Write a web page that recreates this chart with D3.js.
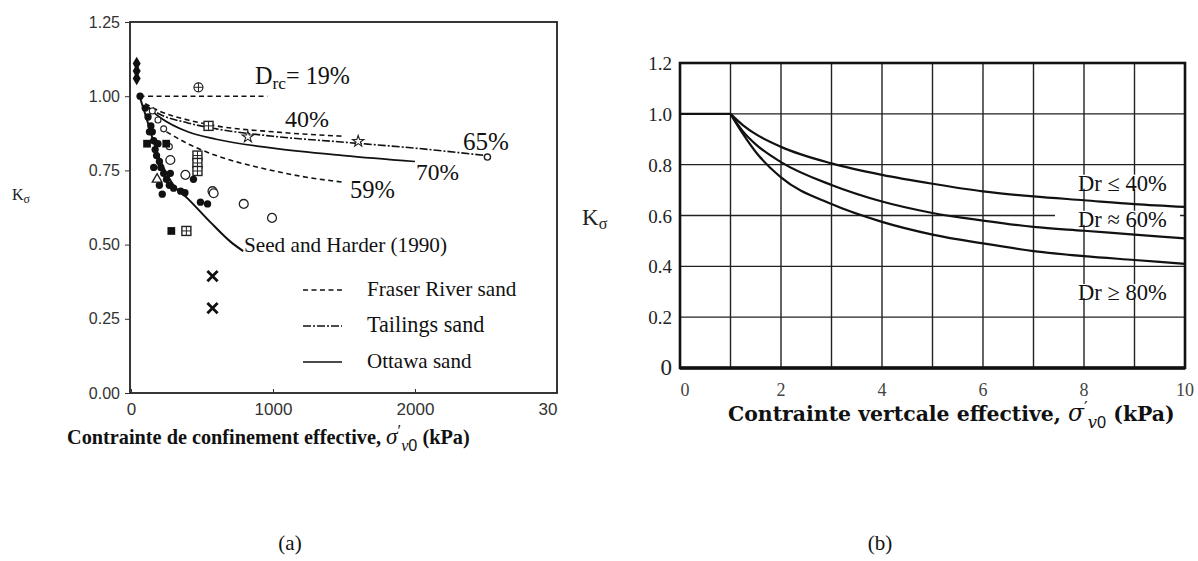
<!DOCTYPE html>
<html><head><meta charset="utf-8">
<script src="https://cdn.jsdelivr.net/npm/d3@7"></script>
<style>body{margin:0;background:#fff}</style>
</head><body>
<svg id="c" width="1198" height="561"></svg>
<script>
// ================= DATA : chart (a) =================
const aXTicks = [0, 1000, 2000, 3000];
const aXTickLabels = ["0", "1000", "2000", "3000"];
const aYTicks = [0, 0.25, 0.5, 0.75, 1.0, 1.25];
const aYTickLabels = ["0.00", "0.25", "0.50", "0.75", "1.00", "1.25"];

const fraser19 = [[60, 1.0], [960, 1.0]];
const fraser40 = [[100, 0.975], [200, 0.95], [400, 0.92], [600, 0.90], [1000, 0.88], [1500, 0.865]];
const fraser59 = [[250, 0.88], [400, 0.84], [600, 0.80], [900, 0.76], [1200, 0.73], [1500, 0.71]];
const tailings65 = [[100, 0.97], [200, 0.94], [400, 0.91], [600, 0.89], [1000, 0.865], [1500, 0.845], [2000, 0.825], [2500, 0.80]];
const ottawa70 = [[100, 0.97], [200, 0.93], [400, 0.88], [600, 0.855], [1000, 0.825], [1500, 0.80], [2000, 0.78]];
const seedHarder = [[60, 1.0], [100, 0.94], [150, 0.86], [200, 0.79], [250, 0.74], [300, 0.70], [400, 0.655], [560, 0.575], [700, 0.51], [790, 0.478]];

const filledCircles = [[64, 1.0], [100, 0.96], [120, 0.93], [140, 0.90], [150, 0.88], [160, 0.85], [170, 0.82], [180, 0.80],
  [200, 0.78], [210, 0.76], [230, 0.74], [250, 0.72], [270, 0.70], [300, 0.69], [350, 0.68], [380, 0.675], [220, 0.67],
  [277, 0.74], [440, 0.72], [489, 0.643], [539, 0.637], [200, 0.70], [160, 0.76], [130, 0.88], [190, 0.84]];
const filledSquares = [[113, 0.84], [248, 0.84], [284, 0.546]];
const filledDiamonds = [[40, 1.11], [40, 1.085], [40, 1.06]];
const openCircles = [[277, 0.785], [383, 0.735], [574, 0.68], [582, 0.673], [794, 0.637], [993, 0.59]];
const smallOpenCircles = [[150, 0.95], [190, 0.92], [230, 0.89], [270, 0.83]];
const boxedPlus = [[546, 0.90], [468, 0.80], [468, 0.775], [468, 0.748], [390, 0.546]];
const circledPlus = [[475, 1.03]];
const plusSigns = [[248, 0.98], [160, 0.97], [200, 0.95]];
const openTriangles = [[184, 0.72]];
const crosses = [[574, 0.394], [574, 0.286]];
const stars = [[823, 0.863], [1600, 0.848]];
const smallOpen = [[2510, 0.795]];

const legendItems = ["Fraser River sand", "Tailings sand", "Ottawa sand"];

// ================= DATA : chart (b) =================
const bXTicks = [0, 2, 4, 6, 8, 10];
const bXGrid = [1, 2, 3, 4, 5, 6, 7, 8, 9];
const bYTicks = [0, 0.2, 0.4, 0.6, 0.8, 1.0, 1.2];
const bYTickLabels = ["0", "0.2", "0.4", "0.6", "0.8", "1.0", "1.2"];
const bYGrid = [0.2, 0.4, 0.6, 0.8, 1.0];
const flatPart = [[0, 1.0], [1, 1.0]];
const dr40 = [[1, 1.0], [1.25, 0.955], [1.5, 0.92], [2, 0.87], [3, 0.805], [4, 0.76], [5, 0.725], [6, 0.695], [7, 0.675], [8, 0.66], [9, 0.645], [10, 0.634]];
const dr60 = [[1, 1.0], [1.25, 0.93], [1.5, 0.88], [2, 0.81], [3, 0.72], [4, 0.655], [5, 0.61], [6, 0.58], [7, 0.555], [8, 0.54], [9, 0.525], [10, 0.51]];
const dr80 = [[1, 1.0], [1.25, 0.92], [1.5, 0.85], [2, 0.75], [3, 0.645], [4, 0.575], [5, 0.525], [6, 0.49], [7, 0.46], [8, 0.44], [9, 0.425], [10, 0.41]];
const bLabelTexts = ["Dr ≤ 40%", "Dr ≈ 60%", "Dr ≥ 80%"];
const bLabelK = [0.725, 0.583, 0.295];

// ================= DRAW =================
const svg = d3.select("#c");
svg.append("rect").attr("width", 1198).attr("height", 561).attr("fill", "#fff");
const SERIF = "'Liberation Serif','DejaVu Serif',serif";
const WSERIF = "'DejaVu Serif','Liberation Serif',serif";
const SANS = "'Liberation Sans',Arial,sans-serif";

function fit(t, target) {
  const w = t.node().getBBox().width;
  const fs = parseFloat(t.attr("font-size"));
  if (w > 0) t.attr("font-size", (fs * target / w).toFixed(2));
  return t;
}

// ---------- chart (a) ----------
const ax = d3.scaleLinear().domain([0, 3000]).range([131, 557]);
const ay = d3.scaleLinear().domain([0, 1.25]).range([393, 22]);
const defs = svg.append("defs");
defs.append("clipPath").attr("id", "clipA")
  .append("rect").attr("x", 0).attr("y", 0).attr("width", 558).attr("height", 561);
const ga = svg.append("g").attr("clip-path", "url(#clipA)");

ga.append("rect").attr("x", 130).attr("y", ay(1.25)).attr("width", 557 - 130).attr("height", ay(0) - ay(1.25))
  .attr("fill", "none").attr("stroke", "#222").attr("stroke-width", 1.8);

const yAxA = d3.axisLeft(ay).tickValues(aYTicks).tickFormat((d, i) => aYTickLabels[i]).tickSize(5).tickPadding(5);
const gya = ga.append("g").attr("transform", "translate(130,0)").call(yAxA);
gya.select(".domain").remove();
gya.selectAll("text").attr("font-family", SANS).attr("font-size", 16).attr("fill", "#333");
gya.selectAll("line").attr("stroke", "#333");

const xAxA = d3.axisBottom(ax).tickValues(aXTicks).tickFormat((d, i) => aXTickLabels[i]).tickSize(-4).tickPadding(10);
const gxa = ga.append("g").attr("transform", `translate(0,${ay(0)})`).call(xAxA);
gxa.select(".domain").remove();
gxa.selectAll("text").attr("font-family", SANS).attr("font-size", 17).attr("fill", "#333");
gxa.selectAll("line").attr("stroke", "#333");

const lineA = d3.line().x(d => ax(d[0])).y(d => ay(d[1])).curve(d3.curveMonotoneX);
const dashed = "5,3.5", dashdot = "8,2,2,2";
function pathA(data, dash, w) {
  ga.append("path").attr("d", lineA(data)).attr("fill", "none").attr("stroke", "#111")
    .attr("stroke-width", w || 1.6).attr("stroke-dasharray", dash || null);
}
pathA(fraser19, dashed);
pathA(fraser40, dashed);
pathA(fraser59, dashed);
pathA(tailings65, dashdot);
pathA(ottawa70, null, 1.7);
pathA(seedHarder, null, 2.0);

function sym(data, type, size, fill, stroke, sw) {
  ga.append("g").selectAll("path").data(data).join("path")
    .attr("transform", d => `translate(${ax(d[0])},${ay(d[1])})`)
    .attr("d", d3.symbol().type(type).size(size))
    .attr("fill", fill).attr("stroke", stroke || "none").attr("stroke-width", sw || 1);
}
sym(smallOpenCircles, d3.symbolCircle, 28, "#fff", "#222", 1.1);
sym(filledCircles, d3.symbolCircle, 42, "#111");
sym(filledSquares, d3.symbolSquare, 60, "#111");
sym(filledDiamonds, d3.symbolDiamond, 55, "#111");
sym(openCircles, d3.symbolCircle, 62, "#fff", "#222", 1.3);
sym(plusSigns, d3.symbolPlus, 45, "#222");
sym(openTriangles, d3.symbolTriangle, 40, "#fff", "#222", 1.4);
sym(crosses, d3.symbolTimes, 70, "none", "#111", 2.8);
sym(stars, d3.symbolStar, 40, "#fff", "#222", 1.1);
sym(smallOpen, d3.symbolCircle, 30, "#fff", "#222", 1.4);

const bp = ga.append("g").selectAll("g").data(boxedPlus).join("g")
  .attr("transform", d => `translate(${ax(d[0])},${ay(d[1])})`);
bp.append("rect").attr("x", -4.5).attr("y", -4.5).attr("width", 9).attr("height", 9)
  .attr("fill", "#fff").attr("stroke", "#222").attr("stroke-width", 1.4);
bp.append("path").attr("d", "M-4.5,0H4.5M0,-4.5V4.5").attr("stroke", "#222").attr("stroke-width", 1);
const cp = ga.append("g").selectAll("g").data(circledPlus).join("g")
  .attr("transform", d => `translate(${ax(d[0])},${ay(d[1])})`);
cp.append("circle").attr("r", 4.5).attr("fill", "#fff").attr("stroke", "#222").attr("stroke-width", 1.2);
cp.append("path").attr("d", "M-4.5,0H4.5M0,-4.5V4.5").attr("stroke", "#222").attr("stroke-width", 1);

function txt(g, x, y, s, size, w) {
  const t = g.append("text").attr("x", x).attr("y", y).attr("font-family", SERIF)
    .attr("font-size", size).attr("fill", "#111").text(s);
  if (w) fit(t, w);
  return t;
}
const drc = ga.append("text").attr("x", 255).attr("y", 84).attr("font-family", SERIF).attr("font-size", 20).attr("fill", "#111");
drc.append("tspan").text("D");
drc.append("tspan").attr("font-size", "0.72em").attr("dy", 5).text("rc");
drc.append("tspan").attr("dy", -5).text("= 19%");
fit(drc, 95);
txt(ga, 285, 127, "40%", 20, 44);
txt(ga, 463, 150, "65%", 20, 46);
txt(ga, 416, 180, "70%", 20, 43);
txt(ga, 350, 198, "59%", 20, 45);
txt(ga, 244, 252, "Seed and Harder (1990)", 18, 203);

const legDash = [dashed, dashdot, null];
const legW = [150, 118, 105];
legendItems.forEach((name, i) => {
  const y = 290 + i * 36;
  ga.append("line").attr("x1", 303).attr("x2", 342).attr("y1", y).attr("y2", y)
    .attr("stroke", "#111").attr("stroke-width", 1.6).attr("stroke-dasharray", legDash[i]);
  txt(ga, 367, y + 6, name, 17, legW[i]);
});

const ka = svg.append("text").attr("x", 12).attr("y", 200).attr("font-family", SERIF).attr("font-size", 16).attr("fill", "#222");
ka.append("tspan").text("K");
ka.append("tspan").attr("font-size", "0.75em").attr("dy", 3).text("σ");

function sigmaTitle(x, y, prefix, size, width, fam) {
  const t = svg.append("text").attr("x", x).attr("y", y).attr("font-family", fam).attr("font-size", size)
    .attr("font-weight", "bold").attr("fill", "#111");
  t.append("tspan").text(prefix);
  t.append("tspan").attr("font-style", "italic").attr("font-weight", "normal").attr("font-size", "1.15em").text("σ");
  t.append("tspan").attr("font-weight", "normal").attr("font-size", "0.8em").attr("dy", "-0.5em").text("′");
  t.append("tspan").attr("font-style", "italic").attr("font-weight", "normal").attr("font-size", "0.8em").attr("dy", "0.95em").text("v");
  t.append("tspan").attr("font-family", SANS).attr("font-weight", "normal").attr("font-size", "0.8em").text("0");
  t.append("tspan").attr("dy", "-0.35em").text(" (kPa)");
  fit(t, width);
}
sigmaTitle(67, 444, "Contrainte de confinement effective, ", 15, 403, SERIF);

// ---------- chart (b) ----------
const bx = d3.scaleLinear().domain([0, 10]).range([680, 1185]);
const by = d3.scaleLinear().domain([0, 1.2]).range([368, 63]);
const gb = svg.append("g");

gb.append("g").selectAll("line").data(bXGrid).join("line")
  .attr("x1", d => bx(d)).attr("x2", d => bx(d)).attr("y1", by(1.2)).attr("y2", by(0))
  .attr("stroke", "#222").attr("stroke-width", 1.4);
gb.append("g").selectAll("line").data(bYGrid).join("line")
  .attr("x1", bx(0)).attr("x2", bx(10)).attr("y1", d => by(d)).attr("y2", d => by(d))
  .attr("stroke", "#222").attr("stroke-width", 1.4);

gb.append("rect").attr("x", bx(0)).attr("y", by(1.2)).attr("width", bx(10) - bx(0)).attr("height", by(0) - by(1.2))
  .attr("fill", "none").attr("stroke", "#111").attr("stroke-width", 2.6);
gb.append("line").attr("x1", bx(0)).attr("x2", bx(10)).attr("y1", by(0)).attr("y2", by(0))
  .attr("stroke", "#111").attr("stroke-width", 3.6);

const lineB = d3.line().x(d => bx(d[0])).y(d => by(d[1])).curve(d3.curveMonotoneX);

bLabelTexts.forEach((s, i) => {
  const y = by(bLabelK[i]);
  gb.append("rect").attr("x", 1055).attr("y", y - 9).attr("width", 125).attr("height", 14).attr("fill", "#fff");
});
[flatPart, dr40, dr60, dr80].forEach(c => {
  gb.append("path").attr("d", lineB(c)).attr("fill", "none").attr("stroke", "#111").attr("stroke-width", 2.2);
});
bLabelTexts.forEach((s, i) => {
  const t = gb.append("text").attr("x", 1078).attr("y", by(bLabelK[i]) + 7).attr("font-family", SERIF)
    .attr("font-size", 19).attr("fill", "#111").text(s);
  fit(t, 89);
});

gb.append("g").selectAll("text").data(bYTicks).join("text")
  .attr("x", 672).attr("y", d => by(d) + 7).attr("text-anchor", "end")
  .attr("font-family", SERIF).attr("font-size", d => d === 0 ? 23 : 19).attr("fill", "#222")
  .text((d, i) => bYTickLabels[i]);
gb.append("g").selectAll("text").data(bXTicks).join("text")
  .attr("x", d => d === 0 ? bx(d) + 5 : bx(d)).attr("y", 396).attr("text-anchor", "middle")
  .attr("font-family", SERIF).attr("font-size", 18).attr("fill", "#444")
  .text(d => d);

const kb = svg.append("text").attr("x", 582).attr("y", 225).attr("font-family", SERIF).attr("font-size", 23).attr("fill", "#222");
kb.append("tspan").text("K");
kb.append("tspan").attr("font-size", "0.7em").attr("dy", 4).text("σ");

sigmaTitle(728, 421, "Contrainte vertcale effective, ", 17, 447, WSERIF);

svg.append("text").attr("x", 290).attr("y", 550).attr("text-anchor", "middle").attr("font-family", SERIF)
  .attr("font-size", 21).attr("fill", "#111").text("(a)");
svg.append("text").attr("x", 880).attr("y", 550).attr("text-anchor", "middle").attr("font-family", SERIF)
  .attr("font-size", 21).attr("fill", "#111").text("(b)");
</script>
</body></html>
